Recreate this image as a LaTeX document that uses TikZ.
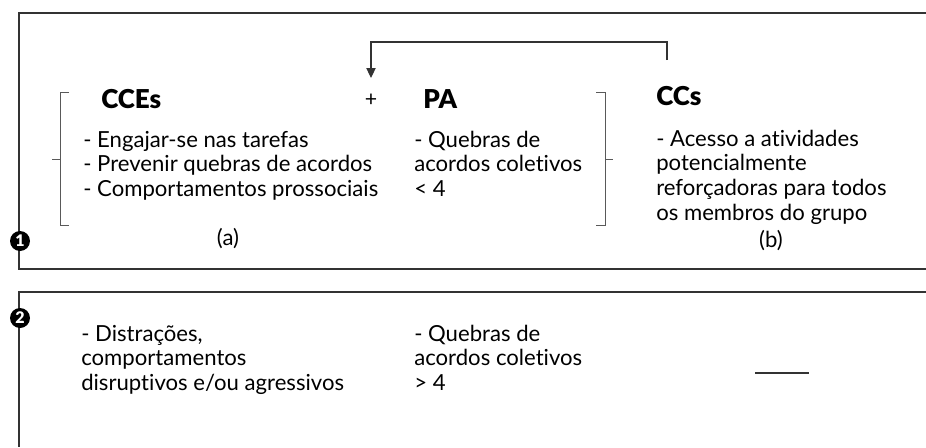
\documentclass[tikz,border=0pt]{standalone}
\usepackage{fontspec}
\setmainfont{Lato}[Ligatures={NoCommon}]
\newfontfamily\blackfont{Lato Black}
\usetikzlibrary{arrows.meta}
\newcommand{\lines}[1]{\begin{tabular}[t]{@{}l@{}}#1\end{tabular}}
\begin{document}
\begin{tikzpicture}[x=0.75pt,y=-0.75pt,
  boxline/.style={draw=black!80,line width=1pt},
  braceline/.style={draw=black!65,line width=0.7pt},
  arrowline/.style={draw=black!80,line width=0.8pt,-{Triangle[length=7.5pt,width=7pt]}},
  heading/.style={anchor=base west,inner sep=0pt,font=\blackfont\fontsize{19.5}{21}\selectfont},
  bodytext/.style={anchor=base west,inner sep=0pt,font=\fontsize{16.6}{18.7}\selectfont},
  label/.style={anchor=base,inner sep=0pt,font=\fontsize{16.6}{18.7}\selectfont},
  numcircle/.style={circle,fill=black,text=white,inner sep=0pt,minimum size=15pt,font=\blackfont\fontsize{12}{12}\selectfont}]
\useasboundingbox (0,0) rectangle (926,447);
% boxes
\draw[boxline] (926,13) -- (19,13) -- (19,269) -- (926,269);
\draw[boxline] (926,292) -- (19,292) -- (19,447);
% headings
\node[heading] (cces) at (101,108) {CCEs};
\node[anchor=center,inner sep=1pt,font=\fontsize{16}{18}\selectfont] (plus) at (371,100) {+};
\node[heading] (pa) at (423,108) {PA};
\node[heading] (ccs) at (656,105) {CCs};
% body texts, box 1
\node[bodytext] (ccetext) at (83,147) {\lines{- Engajar-se nas tarefas\\- Prevenir quebras de acordos\\- Comportamentos prossociais}};
\node[bodytext] (patext) at (414,147) {\lines{- Quebras de\\acordos coletivos\\< 4}};
\node[bodytext] (cctext) at (656,146) {\lines{- Acesso a atividades\\potencialmente\\reforçadoras para todos\\os membros do grupo}};
\node[label] (la) at (228,245) {(a)};
\node[label] (lb) at (771,247) {(b)};
% braces
\draw[braceline] (69,92) -- (60,92) -- (60,225) -- (69,225);
\draw[braceline] (60,159) -- (52,159);
\draw[braceline] (596,92) -- (605,92) -- (605,225) -- (596,225);
\draw[braceline] (605,159) -- (613,159);
% arrow
\coordinate (arrstart) at (667,60);
\coordinate (arrend) at (371,78);
\draw[arrowline] (arrstart) -- (667,42) -| (arrend);
% box 2 texts
\node[bodytext] (distext) at (81,341) {\lines{- Distrações,\\comportamentos\\disruptivos e/ou agressivos}};
\node[bodytext] (pa2text) at (414,341) {\lines{- Quebras de\\acordos coletivos\\> 4}};
\coordinate (dashA) at (755,373);
\coordinate (dashB) at (809,373);
\draw[boxline,line width=0.8pt] (dashA) -- (dashB);
% numbers
\node[numcircle] (n1) at (20,241) {1};
\node[numcircle] (n2) at (20,318) {2};
\end{tikzpicture}
\end{document}
